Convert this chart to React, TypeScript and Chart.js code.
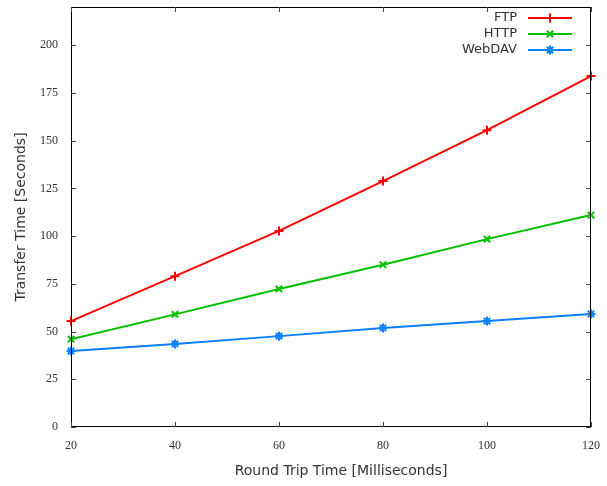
import React, { useEffect, useRef } from "react";
import { Chart, registerables } from "chart.js";

Chart.register(...registerables);

const rtt = [20, 40, 60, 80, 100, 120];
const ftp = [55.5, 79, 102.7, 128.8, 155.5, 183.8];
const http = [46, 59, 72.3, 85, 98.4, 111];
const webdav = [39.8, 43.5, 47.6, 51.9, 55.5, 59.2];
const seriesNames = ["FTP", "HTTP", "WebDAV"];
const seriesColors = ["#ff0000", "#00c000", "#0a80ff"];
const seriesMarkers = ["cross", "crossRot", "star"];
const xTitle = "Round Trip Time [Milliseconds]";
const yTitle = "Transfer Time [Seconds]";

function drawMarker(ctx: CanvasRenderingContext2D, style: string, x: number, y: number, r: number) {
  const d = r * Math.SQRT1_2;
  ctx.beginPath();
  if (style === "cross" || style === "star") {
    ctx.moveTo(x - r, y);
    ctx.lineTo(x + r, y);
    ctx.moveTo(x, y - r);
    ctx.lineTo(x, y + r);
  }
  if (style === "crossRot" || style === "star") {
    ctx.moveTo(x - d, y - d);
    ctx.lineTo(x + d, y + d);
    ctx.moveTo(x - d, y + d);
    ctx.lineTo(x + d, y - d);
  }
  ctx.stroke();
}

const framePlugin = {
  id: "frame",
  afterDraw(chart: any) {
    const { ctx, chartArea: a, scales } = chart;
    ctx.save();
    ctx.strokeStyle = "#000";
    ctx.lineWidth = 1;
    ctx.strokeRect(a.left + 0.5, a.top + 0.5, a.right - a.left - 1, a.bottom - a.top - 1);
    ctx.strokeStyle = "#444";
    const tl = 5;
    scales.x.ticks.forEach((t: any) => {
      const px = Math.round(scales.x.getPixelForValue(t.value)) + 0.5;
      ctx.beginPath();
      ctx.moveTo(px, a.bottom);
      ctx.lineTo(px, a.bottom - tl);
      ctx.moveTo(px, a.top);
      ctx.lineTo(px, a.top + tl);
      ctx.stroke();
    });
    scales.y.ticks.forEach((t: any) => {
      const py = Math.round(scales.y.getPixelForValue(t.value)) + 0.5;
      ctx.beginPath();
      ctx.moveTo(a.left, py);
      ctx.lineTo(a.left + tl, py);
      ctx.moveTo(a.right, py);
      ctx.lineTo(a.right - tl, py);
      ctx.stroke();
    });
    // axis titles
    ctx.fillStyle = "#333";
    ctx.font = "14px 'DejaVu Sans'";
    ctx.textAlign = "center";
    ctx.textBaseline = "middle";
    ctx.fillText(xTitle, 341, 471);
    ctx.save();
    ctx.translate(21, 217);
    ctx.rotate(-Math.PI / 2);
    ctx.fillText(yTitle, 0, 0);
    ctx.restore();
    // legend
    ctx.font = "13px 'DejaVu Sans'";
    ctx.textAlign = "right";
    const rows = [18, 34, 50];
    seriesNames.forEach((n, i) => {
      const y = rows[i];
      ctx.fillStyle = "#333";
      ctx.fillText(n, 517, y);
      ctx.strokeStyle = seriesColors[i];
      ctx.lineWidth = 2;
      ctx.beginPath();
      ctx.moveTo(528, y);
      ctx.lineTo(572, y);
      ctx.stroke();
      drawMarker(ctx, seriesMarkers[i], 550, y, 4.5);
    });
    ctx.restore();
  },
};

export default function App() {
  const ref = useRef<HTMLCanvasElement>(null);
  useEffect(() => {
    if (!ref.current) return;
    const datasets = [ftp, http, webdav].map((d, i) => ({
      label: seriesNames[i],
      data: rtt.map((x, j) => ({ x, y: d[j] })),
      borderColor: seriesColors[i],
      backgroundColor: seriesColors[i],
      borderWidth: 2,
      pointStyle: seriesMarkers[i],
      pointRadius: 4.5,
      pointBorderWidth: 2,
      pointBorderColor: seriesColors[i],
      fill: false,
      tension: 0,
      clip: false,
    }));
    const chart = new Chart(ref.current, {
      type: "line",
      data: { datasets },
      options: {
        animation: false,
        responsive: false,
        layout: { padding: { left: 0, right: 16, top: 7, bottom: 0 } },
        plugins: { legend: { display: false }, tooltip: { enabled: false } },
        scales: {
          x: {
            type: "linear",
            min: 20,
            max: 120,
            grid: { display: false, drawTicks: false },
            border: { display: false },
            ticks: {
              stepSize: 20,
              padding: 12,
              color: "#333",
              font: { family: "'Liberation Serif'", size: 12 },
              maxRotation: 0,
            },
            afterFit: (s: any) => {
              s.height = 59;
              s.paddingLeft = 0;
              s.paddingRight = 0;
            },
          },
          y: {
            type: "linear",
            min: 0,
            max: 220,
            grid: { display: false, drawTicks: false },
            border: { display: false },
            ticks: {
              stepSize: 25,
              includeBounds: false,
              padding: 13,
              color: "#333",
              font: { family: "'Liberation Serif'", size: 12 },
            },
            afterFit: (s: any) => {
              s.width = 71;
              s.paddingTop = 0;
              s.paddingBottom = 0;
            },
          },
        },
      },
      plugins: [framePlugin],
    } as any);
    return () => chart.destroy();
  }, []);
  return (
    <div style={{ position: "absolute", left: 0, top: 0, width: 607, height: 486, background: "#fff" }}>
      <canvas ref={ref} width={607} height={486} style={{ display: "block" }} />
    </div>
  );
}
